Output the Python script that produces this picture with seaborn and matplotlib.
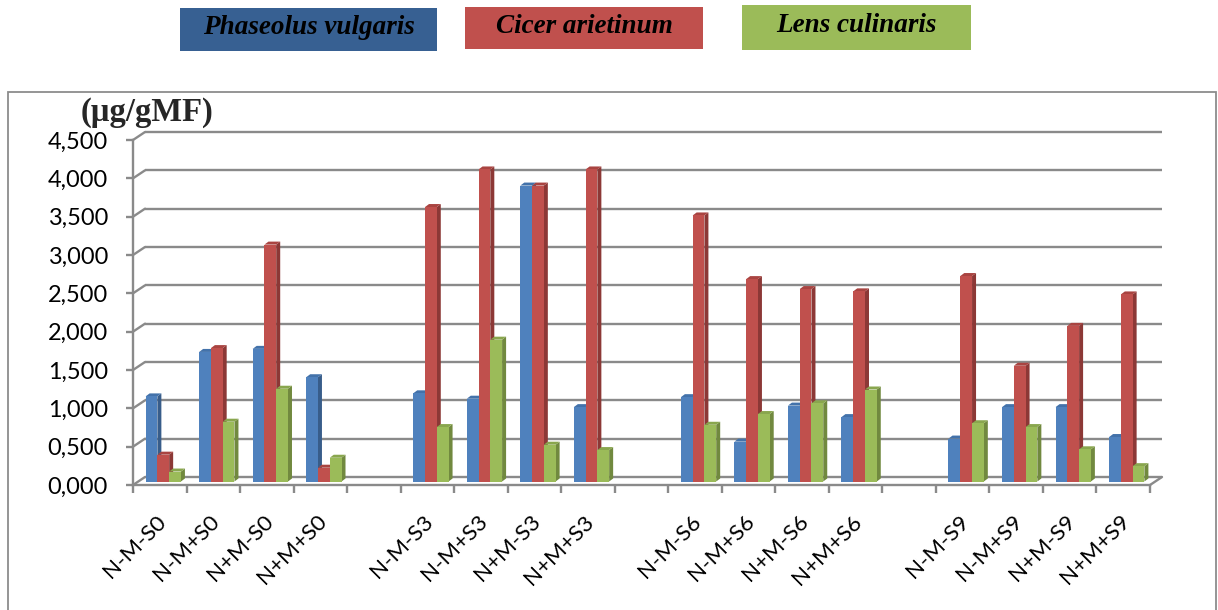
import matplotlib
matplotlib.use("Agg")
import matplotlib.pyplot as plt
from matplotlib.patches import Rectangle, Polygon
from matplotlib.transforms import ScaledTranslation, blended_transform_factory
from matplotlib.ticker import FuncFormatter
import numpy as np
import pandas as pd
import seaborn as sns

# ---- data -------------------------------------------------------------
treatments = ["N-M-S0", "N-M+S0", "N+M-S0", "N+M+S0",
              "N-M-S3", "N-M+S3", "N+M-S3", "N+M+S3",
              "N-M-S6", "N-M+S6", "N+M-S6", "N+M+S6",
              "N-M-S9", "N-M+S9", "N+M-S9", "N+M+S9"]
species = ["Phaseolus vulgaris", "Cicer arietinum", "Lens culinaris"]

phaseolus = [1.11, 1.69, 1.73, 1.36, 1.15, 1.08, 3.86, 0.97,
             1.10, 0.52, 0.99, 0.84, 0.56, 0.97, 0.97, 0.58]
cicer = [0.35, 1.74, 3.09, 0.18, 3.58, 4.07, 3.86, 4.07,
         3.47, 2.64, 2.51, 2.48, 2.68, 1.51, 2.03, 2.44]
lens = [0.13, 0.78, 1.21, 0.31, 0.71, 1.85, 0.48, 0.41,
        0.74, 0.88, 1.02, 1.20, 0.76, 0.71, 0.42, 0.20]

y_ticks = [0.0, 0.5, 1.0, 1.5, 2.0, 2.5, 3.0, 3.5, 4.0, 4.5]
y_label = "(µg/gMF)"

# category order with an empty slot between the salinity groups
order = (treatments[0:4] + [" "] + treatments[4:8] + ["  "] +
         treatments[8:12] + ["   "] + treatments[12:16])

df = pd.DataFrame({
    "treatment": treatments * 3,
    "species": np.repeat(species, len(treatments)),
    "value": phaseolus + cicer + lens,
})

front = {"Phaseolus vulgaris": "#4F81BD", "Cicer arietinum": "#C0504D",
         "Lens culinaris": "#9BBB59"}
side = {"Phaseolus vulgaris": "#385D8A", "Cicer arietinum": "#8C3836",
        "Lens culinaris": "#71893F"}
top = {"Phaseolus vulgaris": "#4372AA", "Cicer arietinum": "#A94441",
       "Lens culinaris": "#89A64E"}
legend_fill = {"Phaseolus vulgaris": "#376092", "Cicer arietinum": "#C0504D",
               "Lens culinaris": "#9BBB59"}

# ---- figure -----------------------------------------------------------
sns.set_style("white")
plt.rcParams["font.family"] = ["Lato", "DejaVu Sans"]

W_PX, H_PX, DPI = 1218, 610, 100
fig = plt.figure(figsize=(W_PX / DPI, H_PX / DPI), dpi=DPI)
renderer = fig.canvas.get_renderer()


def size_for_width(text, width_px, base=20.0):
    """Font size at which `text` is rendered `width_px` pixels wide."""
    t = fig.text(0, 0, text, fontsize=base)
    w = t.get_window_extent(renderer=renderer).width
    t.remove()
    return base * width_px / w


ytick_size = size_for_width("4,500", 60)
xtick_size = size_for_width("N-M-S0", 80)

ax_left, ax_right, ax_top, ax_bottom = 133, 1150, 140, 485
ax = fig.add_axes([ax_left / W_PX, 1 - ax_bottom / H_PX,
                   (ax_right - ax_left) / W_PX, (ax_bottom - ax_top) / H_PX])

sns.barplot(data=df, x="treatment", y="value", hue="species",
            order=order, hue_order=species, palette=front,
            width=0.66, gap=0, saturation=1, errorbar=None,
            legend=False, linewidth=0, ax=ax)

n_cat = len(order)
ax.set_xlim(-0.5, n_cat - 0.5)
ax.set_ylim(0, 4.5)

px_per_cat = (ax_right - ax_left) / n_cat
px_per_unit = (ax_bottom - ax_top) / 4.5
px = 1.0 / DPI  # one pixel in inches

grid_col = "#8A8A8A"
grid_lw = 1.7

# bars sit a little behind the front edge of the floor
bar_shift = ScaledTranslation(3.5 * px, 3.5 * px, fig.dpi_scale_trans)
bar_tr = ax.transData + bar_shift
depth_x = 4.0 / px_per_cat
depth_y = 3.0 / px_per_unit

for z, (container, sp) in enumerate(zip(ax.containers, species)):
    for bar in container:
        h = bar.get_height()
        if not np.isfinite(h):
            continue
        x0 = bar.get_x()
        x1 = x0 + bar.get_width()
        bar.set_transform(bar_tr)
        bar.set_zorder(3 + z)
        ax.add_patch(Polygon([(x1, 0), (x1, h), (x1 + depth_x, h + depth_y),
                              (x1 + depth_x, depth_y)], closed=True,
                             facecolor=side[sp], edgecolor="none",
                             transform=bar_tr, zorder=2.9 + z))
        ax.add_patch(Polygon([(x0, h), (x1, h), (x1 + depth_x, h + depth_y),
                              (x0 + depth_x, h + depth_y)], closed=True,
                             facecolor=top[sp], edgecolor="none",
                             transform=bar_tr, zorder=2.9 + z))

# back wall grid, offset up and to the right of the front axis
wall_dx = 12.0 / (ax_right - ax_left)   # axes fraction
wall_dy = 8.0 / px_per_unit             # data units
blend = blended_transform_factory(ax.transAxes, ax.transData)
for v in y_ticks:
    ax.plot([wall_dx, 1 + wall_dx], [v + wall_dy, v + wall_dy],
            transform=blend, color=grid_col, lw=grid_lw, clip_on=False,
            zorder=1, solid_capstyle="butt")
    ax.plot([0, wall_dx], [v, v + wall_dy], transform=blend,
            color=grid_col, lw=grid_lw, clip_on=False, zorder=1)
ax.plot([1, 1 + wall_dx], [0, wall_dy], transform=blend, color=grid_col,
        lw=grid_lw, clip_on=False, zorder=1)

# axes / spines
for s in ["top", "right"]:
    ax.spines[s].set_visible(False)
for s in ["left", "bottom"]:
    ax.spines[s].set_color(grid_col)
    ax.spines[s].set_linewidth(grid_lw)
    ax.spines[s].set_zorder(1.5)

ax.set_yticks(y_ticks)
ax.yaxis.set_major_formatter(FuncFormatter(lambda v, p: f"{v:.3f}".replace(".", ",")))
ax.tick_params(axis="y", which="major", left=True, length=5, width=grid_lw,
               color=grid_col, pad=13, labelsize=ytick_size, labelcolor="black")

ax.set_xticks(np.arange(-0.5, n_cat, 1.0), minor=True)
ax.set_xticks(np.arange(n_cat))
ax.set_xticklabels([c.strip() for c in order], rotation=45, ha="right",
                   va="center", rotation_mode="anchor")
ax.tick_params(axis="x", which="minor", bottom=True, length=6, width=grid_lw,
               color=grid_col)
ax.tick_params(axis="x", which="major", bottom=False, length=0, pad=24,
               labelsize=xtick_size, labelcolor="black")
label_shift = ScaledTranslation(3 * px, 0, fig.dpi_scale_trans)
for lbl in ax.get_xticklabels():
    lbl.set_transform(lbl.get_transform() + label_shift)

ax.set_xlabel("")
ax.set_ylabel("")
ax.patch.set_alpha(0)

# unit label above the value axis
fig.text(81 / W_PX, 1 - 113 / H_PX, y_label, family="Liberation Serif",
         fontweight="bold", fontsize=23.5, ha="left", va="center")

# outer chart frame
fig.add_artist(Rectangle((8 / W_PX, -0.05), (1216 - 8) / W_PX,
                         (610 - 92) / H_PX + 0.05, transform=fig.transFigure,
                         fill=False, edgecolor="#8C8C8C", lw=1.3))

# legend boxes along the top
boxes = [(180, 437, 8, 51), (465, 703, 7, 49), (742, 971, 5, 50)]
for sp, (x0, x1, y0, y1) in zip(species, boxes):
    fig.add_artist(Rectangle((x0 / W_PX, 1 - y1 / H_PX), (x1 - x0) / W_PX,
                             (y1 - y0) / H_PX, transform=fig.transFigure,
                             facecolor=legend_fill[sp], edgecolor="none"))
    fig.text((x0 + x1) / 2 / W_PX, 1 - (y0 + y1) / 2 / H_PX + 1.5 / H_PX, sp,
             family="Liberation Serif", fontweight="bold", style="italic",
             fontsize=19.5, ha="center", va="center", color="black")

fig.savefig("out.png", dpi=DPI)
